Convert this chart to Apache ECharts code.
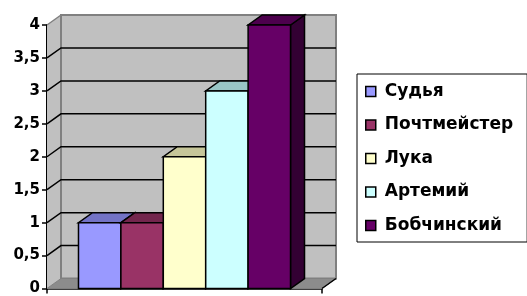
<!DOCTYPE html>
<html>
<head>
<meta charset="utf-8">
<script src="https://cdn.jsdelivr.net/npm/echarts@6/dist/echarts.min.js"></script>
<style>
  html, body { margin: 0; padding: 0; background: #fff; }
  #main { width: 527px; height: 296px; }
</style>
</head>
<body>
<div id="main"></div>
<script>
// данные диаграммы
var categories = [''];
var seriesNames = ['Судья', 'Почтмейстер', 'Лука', 'Артемий', 'Бобчинский'];
var seriesValues = [1, 1, 2, 3, 4];
var yTicks = [0, 0.5, 1, 1.5, 2, 2.5, 3, 3.5, 4];

var frontColors = ['#9999FF', '#993366', '#FFFFCC', '#CCFFFF', '#660066'];
var topColors = ['#7373C6', '#73264D', '#C6C699', '#99C6C6', '#4D004D'];
var sideColors = ['#4C4C80', '#4D1A33', '#808066', '#668080', '#330033'];

var DX = 14, DY = -10;     // глубина 3D
var BAR_SHARE = 0.771;     // доля категории под столбцами

var myChart = echarts.init(document.getElementById('main'), null, { renderer: 'canvas' });

// стенки, пол и линии сетки
function renderWalls(params, api) {
  var cs = params.coordSys;
  var bottom = cs.y + cs.height;
  var right = cs.x + cs.width;
  var children = [
    {
      type: 'polygon',
      shape: { points: [[cs.x, cs.y], [cs.x + DX, cs.y + DY], [cs.x + DX, bottom + DY], [cs.x, bottom]] },
      style: { fill: '#C0C0C0', stroke: null }
    },
    {
      type: 'rect',
      shape: { x: cs.x + DX, y: cs.y + DY, width: cs.width, height: cs.height },
      style: { fill: '#C0C0C0', stroke: '#808080', lineWidth: 2 }
    },
    {
      type: 'polygon',
      shape: { points: [[cs.x, bottom], [right, bottom], [right + DX, bottom + DY], [cs.x + DX, bottom + DY]] },
      style: { fill: '#8C8C8C', stroke: '#808080', lineWidth: 1 }
    },
    {
      type: 'line',
      shape: { x1: right, y1: bottom, x2: right + DX, y2: bottom + DY },
      style: { stroke: '#000', lineWidth: 1.5 }
    },
    {
      type: 'line',
      shape: { x1: cs.x, y1: cs.y, x2: cs.x + DX, y2: cs.y + DY },
      style: { stroke: '#808080', lineWidth: 1.5 }
    }
  ];
  yTicks.forEach(function (v) {
    if (v === yTicks[0] || v === yTicks[yTicks.length - 1]) return;
    var y = api.coord([0, v])[1];
    children.push({
      type: 'polyline',
      shape: { points: [[cs.x, y], [cs.x + DX, y + DY], [right + DX, y + DY]] },
      style: { stroke: '#000', lineWidth: 1.5, fill: null }
    });
  });
  return { type: 'group', children: children };
}

// объёмный столбец
function makeBarRender(idx) {
  return function (params, api) {
    var band = api.size([1, 0])[0];
    var base = api.coord([api.value(0), 0]);
    var top = api.coord([api.value(0), api.value(1)]);
    var total = band * BAR_SHARE;
    var w = total / seriesNames.length;
    var x0 = base[0] - total / 2 + idx * w;
    var x1 = x0 + w;
    var y0 = base[1];
    var yt = top[1];
    var stroke = { stroke: '#000', lineWidth: 1.5, lineJoin: 'miter' };
    return {
      type: 'group',
      children: [
        {
          type: 'polygon',
          shape: { points: [[x1, yt], [x1 + DX, yt + DY], [x1 + DX, y0 + DY], [x1, y0]] },
          style: Object.assign({ fill: sideColors[idx] }, stroke)
        },
        {
          type: 'polygon',
          shape: { points: [[x0, yt], [x1, yt], [x1 + DX, yt + DY], [x0 + DX, yt + DY]] },
          style: Object.assign({ fill: topColors[idx] }, stroke)
        },
        {
          type: 'rect',
          shape: { x: x0, y: yt, width: w, height: y0 - yt },
          style: Object.assign({ fill: frontColors[idx] }, stroke)
        }
      ]
    };
  };
}

var series = [{
  name: 'walls',
  type: 'custom',
  z: 1,
  silent: true,
  renderItem: renderWalls,
  data: [[0, 0]],
  encode: { x: 0, y: 1 }
}];

seriesNames.forEach(function (name, i) {
  series.push({
    name: name,
    type: 'custom',
    z: 3,
    renderItem: makeBarRender(i),
    itemStyle: { color: frontColors[i] },
    data: [[0, seriesValues[i]]],
    encode: { x: 0, y: 1 }
  });
});

myChart.setOption({
  animation: false,
  backgroundColor: '#fff',
  textStyle: { fontFamily: 'DejaVu Sans' },
  grid: { left: 47, right: 205, top: 25, bottom: 5, containLabel: false },
  legend: {
    data: seriesNames,
    orient: 'vertical',
    left: 357,
    top: 74,
    padding: [8, 14, 7, 8],
    itemGap: 14.5,
    itemWidth: 10,
    itemHeight: 10,
    icon: 'rect',
    borderColor: '#000',
    borderWidth: 1,
    itemStyle: { borderColor: '#000', borderWidth: 1.5 },
    textStyle: {
      fontFamily: 'DejaVu Sans',
      fontWeight: 'bold',
      fontSize: 17,
      color: '#000',
      lineHeight: 19,
      padding: [0, 0, 0, 4]
    }
  },
  xAxis: {
    type: 'category',
    data: categories,
    axisLine: { show: true, lineStyle: { color: '#000', width: 1.5 } },
    axisTick: { show: true, length: 5, lineStyle: { color: '#000', width: 1.5 } },
    axisLabel: { show: false },
    splitLine: { show: false }
  },
  yAxis: {
    type: 'value',
    min: 0,
    max: 4,
    interval: 0.5,
    axisLine: { show: true, lineStyle: { color: '#000', width: 2 } },
    axisTick: { show: true, length: 5, lineStyle: { color: '#000', width: 1.5 } },
    axisLabel: {
      margin: 7,
      color: '#000',
      fontFamily: 'DejaVu Sans',
      fontWeight: 'bold',
      fontSize: 15,
      formatter: function (v) { return String(v).replace('.', ','); }
    },
    splitLine: { show: false }
  },
  series: series
});
</script>
</body>
</html>
